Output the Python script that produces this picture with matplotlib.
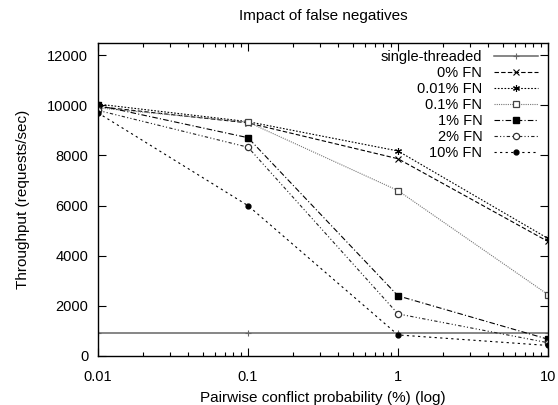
import numpy as np
import matplotlib
matplotlib.use('Agg')
from matplotlib import pyplot as plt
from matplotlib.ticker import FixedLocator, NullFormatter

plt.rcParams['font.family'] = ['Liberation Sans', 'DejaVu Sans']

# conflict probability (%) on log x
probs = [0.01, 0.1, 1, 10]
single = [900, 900, 900, 900]
fn0 = [9950, 9300, 7870, 4570]
fn001 = [10050, 9350, 8180, 4690]
fn01 = [9900, 9330, 6600, 2450]
fn1 = [10000, 8710, 2400, 670]
fn2 = [9800, 8330, 1680, 530]
fn10 = [9700, 6000, 840, 420]

labels = ['single-threaded', '0% FN', '0.01% FN', '0.1% FN', '1% FN', '2% FN', '10% FN']

fig = plt.figure(figsize=(5.58, 4.05), dpi=100)
ax = fig.add_axes([0.1756, 0.121, 0.8064, 0.7736])

ax.plot(probs, single, color='#666666', lw=1.1, ls='-', marker='+', ms=5, mew=0.8, label=labels[0])
ax.plot(probs, fn0, color='black', lw=0.8, ls=(0, (4, 2)), marker='x', ms=4, mew=0.8, label=labels[1])
ax.plot(probs, fn001, color='black', lw=0.8, ls=(0, (1.5, 1.5)), marker=(6, 2, 0), ms=5, mew=0.8, label=labels[2])
ax.plot(probs, fn01, color='#777777', lw=0.8, ls=(0, (1, 1)), marker='s', ms=4.5, mfc='white', mec='#444444', mew=0.9, label=labels[3])
ax.plot(probs, fn1, color='black', lw=0.8, ls=(0, (5, 2, 1, 2)), marker='s', ms=5, label=labels[4])
ax.plot(probs, fn2, color='#222222', lw=0.8, ls=(0, (3, 2, 1, 2, 1, 2)), marker='o', ms=4.5, mfc='white', mec='#333333', mew=0.9, label=labels[5])
ax.plot(probs, fn10, color='black', lw=0.8, ls=(0, (2, 3)), marker='o', ms=3.5, label=labels[6])

ax.set_xscale('log')
ax.set_xlim(0.01, 10)
ax.set_ylim(0, 12500)
ax.set_yticks([0, 2000, 4000, 6000, 8000, 10000, 12000])
ax.set_xticks([0.01, 0.1, 1, 10])
ax.set_xticklabels(['0.01', '0.1', '1', '10'])
ax.xaxis.set_minor_locator(FixedLocator([m * 10.0**e for e in (-2, -1, 0) for m in range(2, 10)]))
ax.xaxis.set_minor_formatter(NullFormatter())
ax.tick_params(which='both', direction='in', top=True, right=True, labelsize=10.5)
ax.tick_params(which='major', length=6, width=0.8)
ax.tick_params(which='minor', length=3, width=0.8)
ax.tick_params(axis='x', which='major', pad=10)
ax.tick_params(axis='y', which='major', pad=7)
for s in ax.spines.values():
    s.set_linewidth(1.0)

ax.set_title('Impact of false negatives', fontsize=11, pad=16)
ax.set_xlabel('Pairwise conflict probability (%) (log)', fontsize=11, labelpad=5)
ax.set_ylabel('Throughput (requests/sec)', fontsize=11, labelpad=12)

ax.legend(loc='upper right', bbox_to_anchor=(1.0, 1.01), frameon=False, markerfirst=False, fontsize=10.5,
          handlelength=3.0, labelspacing=0.14, borderaxespad=0.3, handletextpad=0.8)

fig.savefig('out.png', dpi=100)
